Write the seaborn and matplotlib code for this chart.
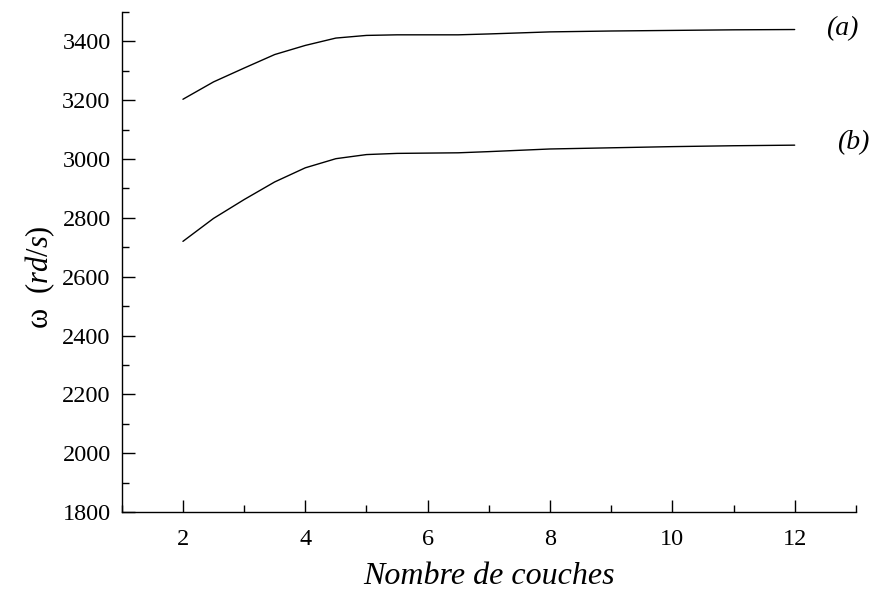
import matplotlib
matplotlib.use('Agg')
import matplotlib.pyplot as plt
import pandas as pd
import seaborn as sns
from matplotlib import ticker

# data
couches = [2, 2.5, 3, 3.5, 4, 4.5, 5, 5.5, 6, 6.5, 7, 8, 9, 10, 11, 12]
omega_a = [3203, 3262, 3309, 3355, 3386, 3411, 3420, 3422, 3422, 3422,
           3425, 3432, 3435, 3437, 3439, 3440]
omega_b = [2720, 2798, 2862, 2922, 2970, 3001, 3015, 3019, 3020, 3021,
           3025, 3034, 3038, 3042, 3045, 3047]
labels = ['(a)', '(b)']

df = pd.concat([
    pd.DataFrame({'n': couches, 'w': omega_a, 'cas': labels[0]}),
    pd.DataFrame({'n': couches, 'w': omega_b, 'cas': labels[1]}),
])

sns.set_style('ticks')
plt.rcParams['font.family'] = 'serif'
plt.rcParams['font.serif'] = ['Liberation Serif', 'DejaVu Serif']
plt.rcParams['mathtext.fontset'] = 'custom'
plt.rcParams['mathtext.rm'] = 'Liberation Serif'
plt.rcParams['mathtext.it'] = 'Liberation Serif:italic'
plt.rcParams['text.color'] = 'black'
plt.rcParams['axes.labelcolor'] = 'black'

fig = plt.figure(figsize=(8.76, 5.94), dpi=100)
ax = fig.add_axes([0.139, 0.138, 0.838, 0.842])
sns.lineplot(data=df, x='n', y='w', hue='cas', palette=['black', 'black'],
             linewidth=1.0, legend=False, ax=ax)

ax.set(xlim=(1, 13), ylim=(1800, 3500))
ax.xaxis.set_major_locator(ticker.MultipleLocator(2))
ax.xaxis.set_minor_locator(ticker.MultipleLocator(1))
ax.yaxis.set_major_locator(ticker.MultipleLocator(200))
ax.yaxis.set_minor_locator(ticker.MultipleLocator(100))
ax.tick_params(which='both', direction='in', width=1.0, labelsize=17.5,
               colors='black')
ax.tick_params(which='major', length=9)
ax.tick_params(which='minor', length=5)
ax.tick_params(axis='x', pad=12)
ax.tick_params(axis='y', pad=8)
sns.despine(ax=ax)
for s in ['left', 'bottom']:
    ax.spines[s].set_linewidth(1.0)
    ax.spines[s].set_color('black')

ax.set_xlabel('Nombre de couches', fontsize=23, style='italic', labelpad=9)
ax.set_ylabel(r'$\mathrm{\omega}$  $\mathit{(rd/s)}$', fontsize=22)
ax.yaxis.set_label_coords(-0.088, 0.47)

ax.text(12.78, 3444, labels[0], fontsize=20, style='italic',
        ha='center', va='center')
ax.text(12.95, 3054, labels[1], fontsize=20, style='italic',
        ha='center', va='center')

fig.savefig('out.png', dpi=100)
